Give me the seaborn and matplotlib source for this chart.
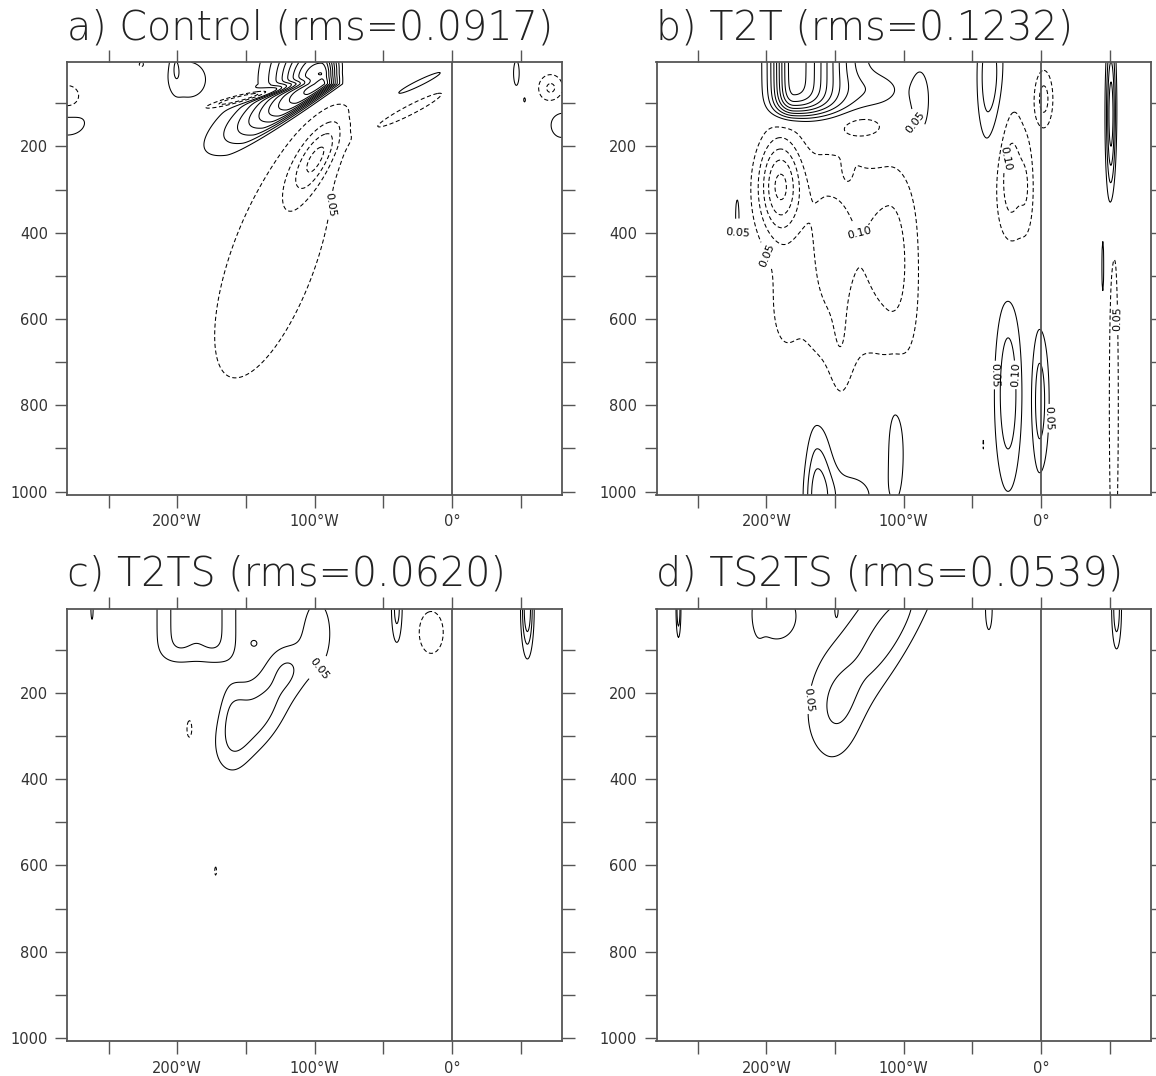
import numpy as np
import seaborn as sns
import matplotlib.pyplot as plt

sns.set_theme(style="white")
plt.rcParams['font.family'] = ['DejaVu Sans']

# panel titles
titles = ["a) Control (rms=0.0917)", "b) T2T (rms=0.1232)",
          "c) T2TS (rms=0.0620)", "d) TS2TS (rms=0.0539)"]

# anomaly features:
# (lon centre, p centre, amplitude, west width, east width, p width,
#  tilt above centre, tilt below centre (deg/hPa), vertical shape exponent)
blobs_a = [
    (-95, 55, 0.50, 22, 8, 80, 0, -0.42, 2),
    (-145, 82, -0.22, 8, 8, 20, -1.1, -1.1, 2),
    (-98, 225, -0.16, 10, 8, 60, -0.15, -0.15, 2),
    (-130, 460, -0.09, 30, 30, 255, -0.10, -0.10, 2),
    (-192, 45, 0.075, 14, 14, 45, 0, 0, 2),
    (-201, 5, 0.06, 3, 3, 40, 0, 0, 2),
    (-217, 62, -0.06, 3, 3, 10, 0, 0, 2),
    (-226, 10, -0.06, 3, 3, 10, 0, 0, 2),
    (-280, 90, -0.12, 8, 8, 25, 0, 0, 2),
    (-280, 140, 0.08, 14, 14, 35, 0, 0, 2),
    (-25, 55, 0.07, 6, 6, 33, -0.6, -0.6, 2),
    (-27, 110, -0.07, 8, 8, 40, -0.55, -0.55, 2),
    (47, 30, 0.07, 2.5, 2.5, 35, 0, 0, 2),
    (53, 92, 0.055, 1.5, 1.5, 12, 0, 0, 2),
    (72, 65, -0.11, 7, 7, 25, 0, 0, 2),
    (80, 150, 0.08, 8, 8, 30, 0, 0, 2),
]
blobs_b = [
    (-180, 5, 0.48, 11, 25, 110, 0, 0, 6),
    (-88, 100, 0.08, 6, 6, 70, 0, 0, 2),
    (-118, 70, 0.06, 15, 15, 30, 0, 0, 2),
    (-190, 290, -0.24, 11, 11, 80, 0, 0, 2),
    (-142, 480, -0.055, 45, 45, 230, 0, 0, 4),
    (-155, 430, -0.07, 12, 18, 150, 0, 0, 2),
    (-112, 450, -0.07, 12, 9, 120, 0, 0, 2),
    (-100, 500, -0.04, 9, 9, 170, 0, 0, 2),
    (-146, 700, -0.04, 6, 6, 90, 0, 0, 2),
    (-187, 560, -0.035, 8, 8, 90, 0, 0, 2),
    (-130, 150, -0.07, 12, 12, 20, 0, 0, 2),
    (-141, 254, 0.06, 2.5, 2.5, 20, 0, 0, 2),
    (-221, 360, 0.07, 3, 3, 90, 0, 0, 2),
    (-38, 40, 0.14, 6, 8, 110, 0, 0, 2),
    (-22, 270, -0.13, 8, 8, 120, 0, 0, 2),
    (2, 90, -0.12, 5, 5, 50, 0, 0, 2),
    (-10, 300, -0.06, 4, 4, 80, 0, 0, 2),
    (-24, 770, 0.14, 7, 7, 160, 0, 0, 2),
    (-1, 790, 0.13, 4, 5, 120, 0, 0, 2),
    (-163, 1010, 0.16, 6, 8, 110, 0, 0, 2),
    (-106, 900, 0.08, 5, 6, 100, 0, 0, 2),
    (-140, 1010, 0.07, 18, 18, 50, 0, 0, 2),
    (-42, 890, -0.055, 1.5, 1.5, 50, 0, 0, 2),
    (51, 130, 0.25, 2.5, 2.5, 130, 0, 0, 2),
    (53, 800, -0.09, 3, 3, 350, 0, 0, 2),
    (45, 480, 0.06, 1.2, 1.2, 100, 0, 0, 2),
]
blobs_c = [
    (-140, 250, 0.12, 17, 14, 80, -0.15, -0.15, 2),
    (-160, 220, 0.04, 6, 8, 50, 0, 0, 2),
    (-160, 300, 0.04, 8, 8, 60, 0, 0, 2),
    (-98, 60, 0.08, 9, 9, 70, 0, 0, 2),
    (-120, 140, 0.06, 10, 10, 40, 0, 0, 2),
    (-200, 5, 0.105, 12, 12, 114, 0, 0, 6),
    (-172, 5, 0.105, 12, 12, 114, 0, 0, 6),
    (-144, 85, 0.055, 2.5, 2.5, 8, 0, 0, 2),
    (-262, 5, 0.07, 1, 1, 30, 0, 0, 2),
    (-40, 5, 0.12, 3, 3, 60, 0, 0, 2),
    (-15, 60, -0.08, 9, 9, 50, 0, 0, 2),
    (55, 5, 0.2, 3, 3, 70, 0, 0, 2),
    (-191, 285, -0.06, 3.5, 3.5, 38, 0, 0, 2),
    (-172, 613, -0.055, 1.5, 1.5, 22, 0, 0, 2),
]
blobs_d = [
    (-109, 60, 0.115, 26, 14, 150, -0.165, -0.165, 2),
    (-150, 250, 0.06, 14, 14, 90, 0, 0, 2),
    (-193, 20, 0.09, 13, 13, 50, 0, 0, 2),
    (-206, 10, 0.04, 3, 3, 50, 0, 0, 2),
    (-190, 112, -0.06, 3, 3, 8, 0, 0, 2),
    (-264, 5, 0.15, 1.2, 1.2, 45, 0, 0, 2),
    (-149, 5, 0.06, 1, 1, 15, 0, 0, 2),
    (-38, 5, 0.08, 2.5, 2.5, 50, 0, 0, 2),
    (55, 5, 0.14, 2.5, 2.5, 65, 0, 0, 2),
]

levels = [-0.50, -0.45, -0.40, -0.35, -0.30, -0.25, -0.20, -0.15, -0.10, -0.05,
          0.05, 0.10, 0.15, 0.20, 0.25, 0.30, 0.35, 0.40, 0.45, 0.50]

# where the contour labels sit (lon, hPa)
label_spots = [
    [(-90, 335)],
    [(-95, 150), (-24, 230), (-221, 440), (-212, 470), (-135, 410),
     (-33, 730), (-22, 730), (5, 830), (54, 600)],
    [(-103, 126)],
    [(-172, 215)],
]

lon_ticks = [-250, -200, -150, -100, -50, 0, 50]
lon_labels = ["", "200°W", "", "100°W", "", "0°", ""]
p_ticks = [100, 200, 300, 400, 500, 600, 700, 800, 900, 1000]
p_labels = ["", "200", "", "400", "", "600", "", "800", "", "1000"]

lon = np.linspace(-280, 80, 721)
pres = np.linspace(5, 1008, 500)
LON, P = np.meshgrid(lon, pres)


def build_field(blobs):
    z = np.zeros_like(LON)
    for lon0, p0, amp, wl, wr, wp, t_up, t_dn, n in blobs:
        tilt = np.where(P < p0, t_up, t_dn)
        dx = LON - (lon0 + tilt * (P - p0))
        w = np.where(dx < 0, wl, wr)
        z += amp * np.exp(-0.5 * (dx / w) ** 2 - 0.5 * np.abs((P - p0) / wp) ** n)
    return z


fig = plt.figure(figsize=(11.56, 10.76), dpi=100)
W, H = 1156, 1076
frame = "#555555"
boxes = [(67.3, 62.3), (656.5, 62.3), (67.3, 608.7), (656.5, 608.7)]
aw, ah = 494.4, 432.7
styles = [(0, (4, 2.5)) if v < 0 else "solid" for v in levels]

for i, blobs in enumerate([blobs_a, blobs_b, blobs_c, blobs_d]):
    x0, y0 = boxes[i]
    ax = fig.add_axes([x0 / W, 1 - (y0 + ah) / H, aw / W, ah / H])
    z = build_field(blobs)
    cs = ax.contour(LON, P, z, levels=levels, colors="black", linewidths=0.75,
                    linestyles=styles)
    ax.clabel(cs, inline=True, fontsize=8, fmt=lambda v: f"{abs(v):.2f}",
              inline_spacing=2, manual=label_spots[i])
    ax.axvline(0, color=frame, lw=1.3)

    ax.set_xlim(-280, 80)
    ax.set_ylim(1008, 5)
    ax.set_xticks(lon_ticks)
    ax.set_xticklabels(lon_labels)
    ax.set_yticks(p_ticks)
    ax.set_yticklabels(p_labels)
    ax.tick_params(axis="both", which="major", direction="out", length=9,
                   width=1.0, color=frame, labelsize=10.5, labelcolor="#333333",
                   top=True, right=True, bottom=True, left=True, pad=5)
    for s in ax.spines.values():
        s.set_color(frame)
        s.set_linewidth(1.3)

    base = 39.5 if i < 2 else 39.5 + 546.4
    fig.text(x0 / W, 1 - base / H, titles[i], fontsize=28.5, fontweight=200,
             family=["DejaVu Sans"], color="#222222", ha="left", va="baseline")

fig.savefig("out.png", dpi=100)
